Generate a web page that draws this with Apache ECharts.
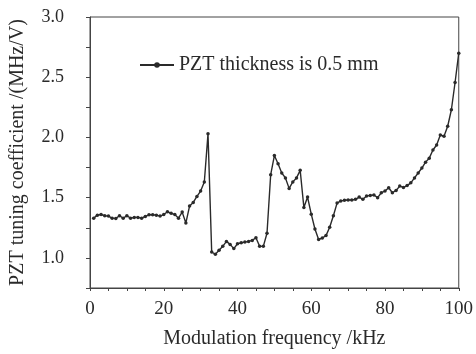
<!DOCTYPE html>
<html>
<head>
<meta charset="utf-8">
<script src="https://cdn.jsdelivr.net/npm/echarts@6/dist/echarts.min.js"></script>
<style>
  html, body { margin: 0; padding: 0; background: #fff; }
  #chart { width: 476px; height: 354px; }
</style>
</head>
<body>
<div id="chart"></div>
<script>
// modulation frequency, kHz
const freqs = [];
for (let f = 1; f <= 100; f++) freqs.push(f);

// PZT tuning coefficient, MHz/V
const coeffs = [
  1.33, 1.355, 1.36, 1.35, 1.347, 1.33, 1.328, 1.35, 1.33, 1.35,
  1.33, 1.336, 1.336, 1.33, 1.344, 1.358, 1.358, 1.355, 1.347, 1.36,
  1.383, 1.37, 1.36, 1.33, 1.38, 1.29, 1.43, 1.46, 1.51, 1.555,
  1.63, 2.03, 1.049, 1.03, 1.063, 1.096, 1.137, 1.112, 1.077, 1.117,
  1.126, 1.131, 1.137, 1.145, 1.167, 1.096, 1.096, 1.205, 1.691, 1.85,
  1.781, 1.705, 1.664, 1.577, 1.631, 1.664, 1.727, 1.418, 1.505, 1.363,
  1.24, 1.153, 1.165, 1.185, 1.254, 1.35, 1.455, 1.473, 1.478, 1.481,
  1.481, 1.486, 1.505, 1.486, 1.514, 1.519, 1.522, 1.50, 1.541, 1.555,
  1.582, 1.541, 1.56, 1.596, 1.585, 1.60, 1.623, 1.664, 1.705, 1.746,
  1.795, 1.828, 1.896, 1.937, 2.02, 2.01, 2.093, 2.23, 2.456, 2.70
];

const seriesName = 'PZT thickness is 0.5 mm';
const xTitle = 'Modulation frequency /kHz';
const yTitle = 'PZT tuning coefficient /(MHz/V)';

const font = 'Liberation Serif';
const ink = '#2a2a2a';

const chart = echarts.init(document.getElementById('chart'));

const option = {
  animation: false,
  backgroundColor: '#fff',
  textStyle: { fontFamily: font, color: ink },
  grid: {
    left: 89, right: 17, top: 17, bottom: 64,
    show: true, borderColor: '#444', borderWidth: 1
  },
  legend: {
    left: 134, top: 50,
    itemWidth: 34, itemHeight: 7, itemGap: 8,
    textStyle: { fontFamily: font, fontSize: 20, color: ink },
    data: [seriesName]
  },
  xAxis: {
    type: 'value',
    min: 0, max: 100, interval: 5,
    name: xTitle,
    nameLocation: 'middle',
    nameGap: 41,
    nameTextStyle: { fontFamily: font, fontSize: 20, color: ink },
    axisLine: { lineStyle: { color: '#444', width: 1 } },
    axisTick: { length: 3, lineStyle: { color: '#444' } },
    axisLabel: {
      margin: 12, fontFamily: font, fontSize: 19, color: ink,
      formatter: v => (v % 20 === 0 ? String(v) : '')
    },
    splitLine: { show: false }
  },
  yAxis: {
    type: 'value',
    min: 0.75, max: 3.0, interval: 0.25,
    name: yTitle,
    nameLocation: 'middle',
    nameGap: 62,
    nameTextStyle: { fontFamily: font, fontSize: 20, color: ink },
    axisLine: { show: true, lineStyle: { color: '#444', width: 1 } },
    axisTick: { length: 4, lineStyle: { color: '#444' } },
    axisLabel: {
      margin: 26, fontFamily: font, fontSize: 18, color: ink,
      formatter: v => (Math.abs(v * 2 - Math.round(v * 2)) < 1e-6 ? v.toFixed(1) : '')
    },
    splitLine: { show: false }
  },
  series: [{
    name: seriesName,
    type: 'line',
    data: freqs.map((f, i) => [f, coeffs[i]]),
    symbol: 'circle',
    symbolSize: 3.5,
    showAllSymbol: true,
    lineStyle: { color: ink, width: 1.4 },
    itemStyle: { color: ink }
  }]
};

chart.setOption(option);
</script>
</body>
</html>
